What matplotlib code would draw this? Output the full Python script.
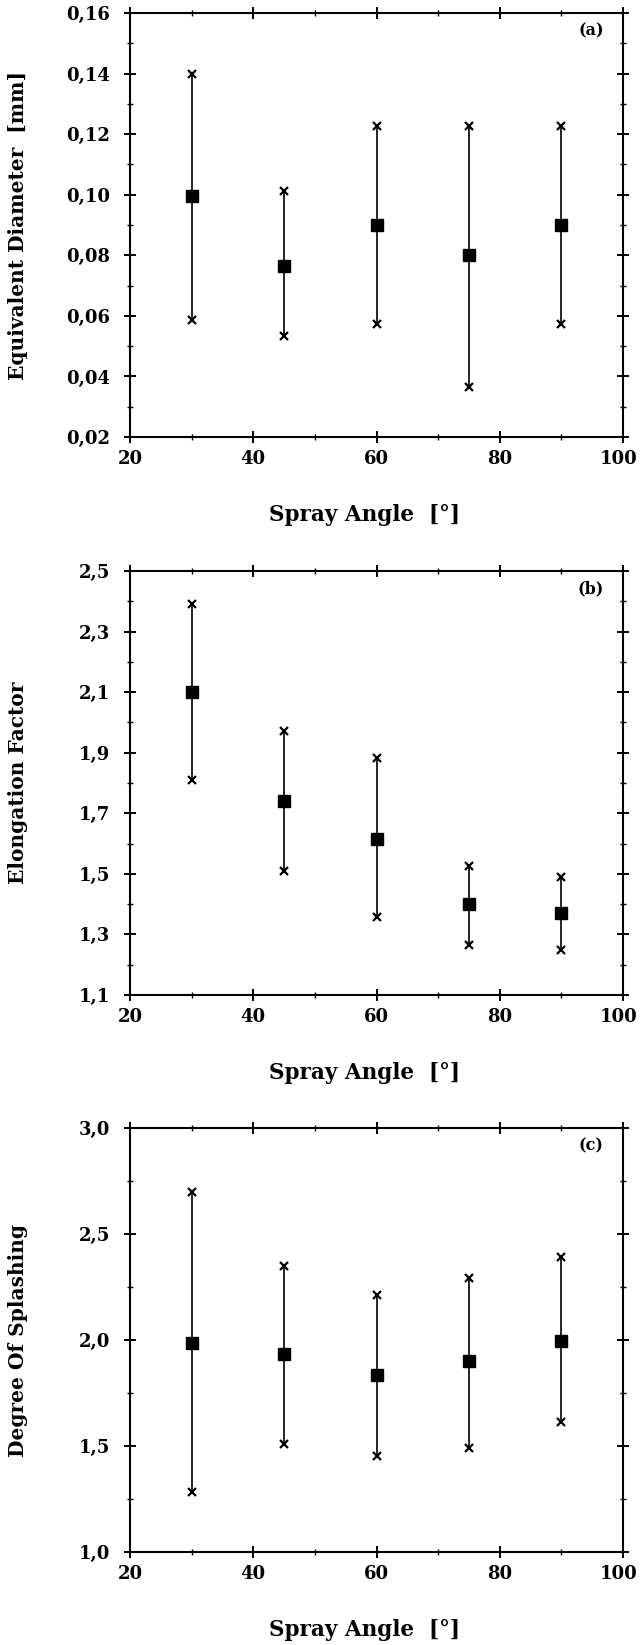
import matplotlib
matplotlib.use('Agg')
import matplotlib.pyplot as plt
from matplotlib.ticker import MultipleLocator
import matplotlib.transforms as mtrans

plt.rcParams['font.family'] = ['DejaVu Serif']
plt.rcParams['font.weight'] = 'bold'

# spray angles [deg]
angles = [30, 45, 60, 75, 90]

# (a) equivalent diameter [mm]
diam_mean = [0.0995, 0.0765, 0.0900, 0.0800, 0.0900]
diam_max = [0.1398, 0.1012, 0.1227, 0.1227, 0.1227]
diam_min = [0.0585, 0.0533, 0.0572, 0.0365, 0.0572]

# (b) elongation factor
elong_mean = [2.100, 1.740, 1.615, 1.399, 1.370]
elong_max = [2.390, 1.972, 1.884, 1.527, 1.490]
elong_min = [1.810, 1.510, 1.358, 1.266, 1.250]

# (c) degree of splashing
splash_mean = [1.987, 1.935, 1.834, 1.901, 1.995]
splash_max = [2.697, 2.350, 2.212, 2.293, 2.391]
splash_min = [1.283, 1.508, 1.452, 1.493, 1.615]

x_ticks = [20, 40, 60, 80, 100]
yt_a = [0.02, 0.04, 0.06, 0.08, 0.10, 0.12, 0.14, 0.16]
yl_a = ['0,02', '0,04', '0,06', '0,08', '0,10', '0,12', '0,14', '0,16']
yt_b = [1.1, 1.3, 1.5, 1.7, 1.9, 2.1, 2.3, 2.5]
yl_b = ['1,1', '1,3', '1,5', '1,7', '1,9', '2,1', '2,3', '2,5']
yt_c = [1.0, 1.5, 2.0, 2.5, 3.0]
yl_c = ['1,0', '1,5', '2,0', '2,5', '3,0']

fig = plt.figure(figsize=(6.42, 16.45), dpi=100)

panels = [
    (0.7343, diam_mean, diam_max, diam_min, yt_a, yl_a, 0.01,
     'Equivalent Diameter  [mm]', '(a)'),
    (0.3951, elong_mean, elong_max, elong_min, yt_b, yl_b, 0.1,
     'Elongation Factor', '(b)'),
    (0.0565, splash_mean, splash_max, splash_min, yt_c, yl_c, 0.25,
     'Degree Of Splashing', '(c)'),
]

for bottom, mean, hi, lo, yt, yl, yminor, ylabel, tag in panels:
    ax = fig.add_axes([0.2025, bottom, 0.768, 0.2578])
    # range lines with x markers at both ends
    for a, h, l in zip(angles, hi, lo):
        ax.plot([a, a], [l, h], color='black', lw=1.2)
    ax.plot(angles, hi, 'x', color='black', ms=6, mew=1.6)
    ax.plot(angles, lo, 'x', color='black', ms=6, mew=1.6)
    ax.plot(angles, mean, 's', color='black', ms=8.5)

    ax.set_xlim(20, 100)
    ax.set_ylim(yt[0], yt[-1])
    ax.set_xticks(x_ticks)
    ax.set_xticklabels([str(v) for v in x_ticks])
    ax.set_yticks(yt)
    ax.set_yticklabels(yl)
    ax.xaxis.set_minor_locator(MultipleLocator(10))
    ax.yaxis.set_minor_locator(MultipleLocator(yminor))
    ax.tick_params(which='major', direction='inout', length=9, width=1.4,
                   top=True, right=True, labelsize=13)
    ax.tick_params(which='minor', direction='inout', length=5, width=1.0,
                   top=True, right=True)
    ax.tick_params(axis='x', which='major', pad=5)
    ax.tick_params(axis='y', which='major', pad=10)
    for s in ax.spines.values():
        s.set_linewidth(1.5)

    # pull the "100" label a little left so it stays inside the figure
    last = ax.get_xticklabels()[-1]
    last.set_transform(last.get_transform() +
                       mtrans.ScaledTranslation(-4 / 100, 0, fig.dpi_scale_trans))

    ax.set_ylabel(ylabel, fontsize=14.5, fontweight='bold')
    ax.yaxis.set_label_coords(-0.207, 0.5)
    ax.set_xlabel('Spray Angle  [°]', fontsize=15.5, fontweight='bold')
    ax.xaxis.set_label_coords(0.475, -0.158)
    ax.text(0.935, 0.958, tag, transform=ax.transAxes, fontsize=11.5,
            fontweight='bold', ha='center', va='center')

fig.savefig('out.png', dpi=100)
